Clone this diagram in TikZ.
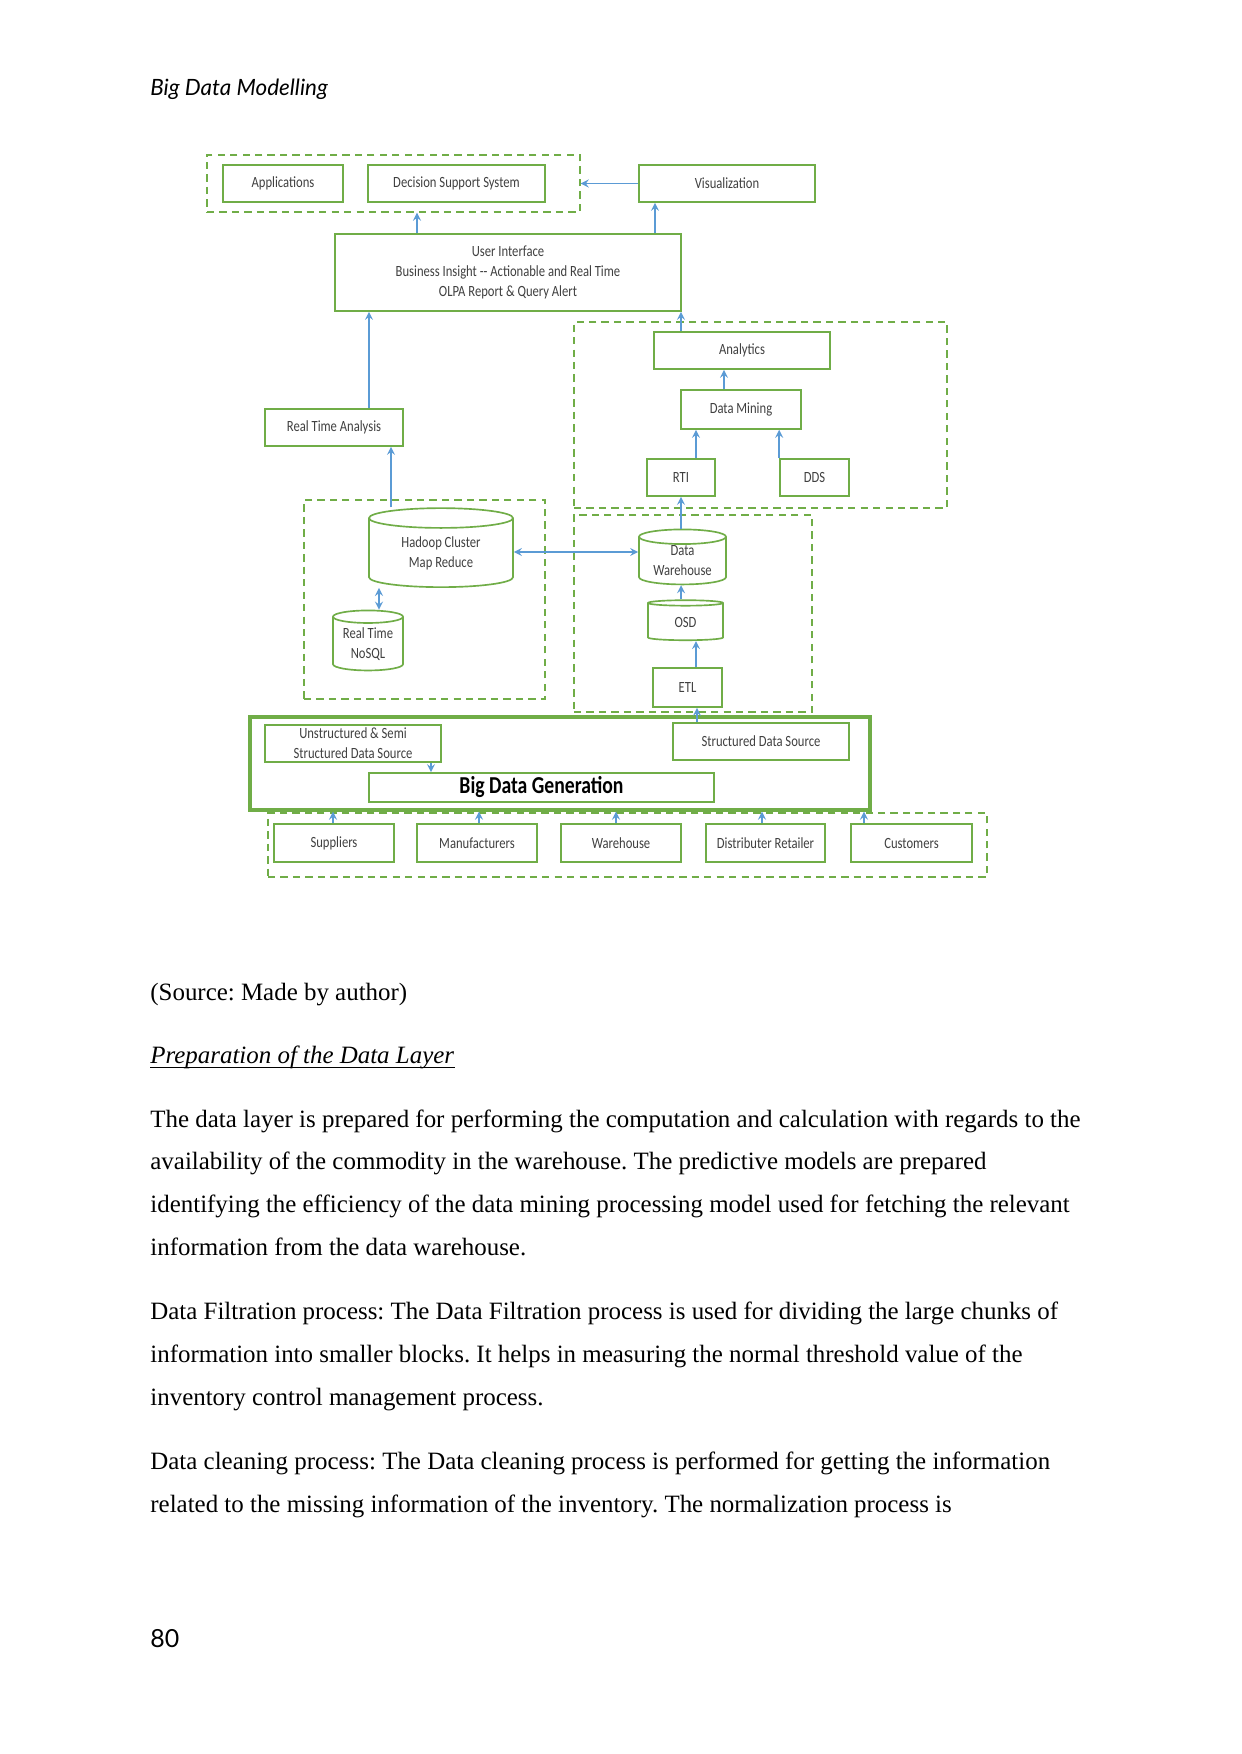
\documentclass[tikz,border=0pt]{standalone}
\usepackage{fontspec}
\setmainfont{Liberation Serif}
\newfontfamily\diagfont[FakeStretch=0.81]{Carlito}
\newfontfamily\headfont{Lato}
\usepackage{xcolor}
\definecolor{bdGreen}{HTML}{70AD47}
\definecolor{bdBlue}{HTML}{5B9BD5}
\definecolor{bdText}{HTML}{404040}
\usetikzlibrary{shapes.geometric}
\newcommand{\pxu}{0.16922mm}
\frenchspacing

\tikzset{
  sz/.style 2 args={minimum width=#1*\pxu, minimum height=#2*\pxu},
  box/.style={draw=bdGreen, line width=0.8pt, fill=white, text=bdText, align=center,
    inner sep=0pt, font=\diagfont\fontsize{7.5}{9.6}\selectfont},
  db/.style={box, cylinder, shape border rotate=90, aspect=0.25},
  group/.style={draw=bdGreen, line width=0.7pt, dash pattern=on 3.5pt off 2.5pt, inner sep=0pt},
  flow/.style={->, bdBlue, line width=0.7pt},
  both/.style={<->, bdBlue, line width=0.7pt},
  body/.style={anchor=base west, inner sep=0pt, font=\fontsize{12}{14}\selectfont}
}

\begin{document}
\begin{tikzpicture}[x=0.16922mm, y=-0.16922mm, >=stealth]
  \fill[white] (0,0) rectangle (1241,1754);
  \useasboundingbox (0,0) rectangle (1241,1754);
  % page header
  \node[body, font=\headfont\itshape\fontsize{10.8}{13}\selectfont] (head) at (150,96) {Big Data Modelling};
  % dashed groups
  \node[group, sz={373}{57}] (appgrp) at (393.5,183.5) {};
  \node[group, sz={373}{186}] (anagrp) at (760.5,415) {};
  \node[group, sz={241}{199}] (hadgrp) at (424.5,599.5) {};
  \node[group, sz={238}{197}] (dwgrp) at (693,613.5) {};
  \node[group, sz={719}{64}] (srcgrp) at (627.5,845) {};
  \node[draw=bdGreen, line width=1.6pt, sz={620}{93}] (gengrp) at (560,763.5) {};
  % top row
  \node[box, sz={120}{37}] (apps) at (283,183.5) {Applications};
  \node[box, sz={177}{37}] (dss) at (456.5,183.5) {Decision Support System};
  \node[box, sz={176}{37}] (viz) at (727,183.5) {Visualization};
  \node[box, sz={346}{77}] (ui) at (508,272.5)
    {User Interface\\ Business Insight -- Actionable and Real Time\\ OLPA Report \& Query Alert};
  \node[box, sz={138}{37}] (rta) at (334,427.5) {Real Time Analysis};
  % analytics
  \node[box, sz={176}{37}] (ana) at (742,350.5) {Analytics};
  \node[box, sz={120}{39}] (dm) at (741,409.5) {Data Mining};
  \node[box, sz={68}{37}] (rti) at (681,477.5) {RTI};
  \node[box, sz={69}{37}] (dds) at (814.5,477.5) {DDS};
  % storage
  \node[db, sz={144}{79}] (hadoop) at (441,553) {Hadoop Cluster\\ Map Reduce};
  \node[db, sz={70}{60}] (nosql) at (368,644) {Real Time\\ NoSQL};
  \node[db, sz={87}{55}] (dw) at (682.5,561) {Data\\ Warehouse};
  \node[db, sz={75}{40}] (osd) at (685.5,622) {OSD};
  \node[box, sz={69}{39}] (etl) at (687.5,687.5) {ETL};
  % generation
  \node[box, sz={176}{37}] (unst) at (353,743.5) {Unstructured \& Semi\\ Structured Data Source};
  \node[box, sz={176}{37}] (sds) at (761,741.5) {Structured Data Source};
  \node[box, sz={345}{29}, font=\diagfont\bfseries\fontsize{11.7}{12}\selectfont, text=black] (bdg) at (541.5,787.5) {Big Data Generation};
  % sources
  \node[box, sz={120}{38}] (sup) at (334,843) {Suppliers};
  \node[box, sz={120}{38}] (man) at (477,843) {Manufacturers};
  \node[box, sz={120}{38}] (wh) at (621,843) {Warehouse};
  \node[box, sz={119}{38}] (dr) at (765.5,843) {Distributer Retailer};
  \node[box, sz={121}{38}] (cus) at (911.5,843) {Customers};
  % connectors
  \draw[flow] (417,0 |- ui.north) -- (417,0 |- appgrp.south);
  \draw[flow] (viz.west) -- (appgrp.east |- viz.west);
  \draw[flow] (655,0 |- ui.north) -- (655,0 |- viz.south);
  \draw[flow] (369,0 |- rta.north) -- (369,0 |- ui.south);
  \draw[flow] (391,0 |- hadoop.north) -- (391,0 |- rta.south);
  \draw[flow] (681,0 |- ana.north) -- (681,0 |- ui.south);
  \draw[flow] (724,0 |- dm.north) -- (724,0 |- ana.south);
  \draw[flow] (696,0 |- rti.north) -- (696,0 |- dm.south);
  \draw[flow] (dds.north west) -- (dds.north west |- dm.south);
  \draw[flow] (681,0 |- dw.north) -- (681,0 |- rti.south);
  \draw[both] (hadoop.east |- 0,552) -- (dw.west |- 0,552);
  \draw[both] (379,0 |- hadoop.south) -- (379,0 |- nosql.north);
  \draw[flow] (681,0 |- osd.north) -- (681,0 |- dw.south);
  \draw[flow] (696,0 |- etl.north) -- (696,0 |- osd.south);
  \draw[flow] (697,0 |- sds.north) -- (697,0 |- etl.south);
  \draw[flow] (431,0 |- unst.south) -- (431,0 |- bdg.north);
  \draw[flow] (333,0 |- sup.north) -- (333,0 |- gengrp.south);
  \draw[flow] (479,0 |- man.north) -- (479,0 |- gengrp.south);
  \draw[flow] (616,0 |- wh.north) -- (616,0 |- gengrp.south);
  \draw[flow] (762,0 |- dr.north) -- (762,0 |- gengrp.south);
  \draw[flow] (864,0 |- cus.north) -- (864,0 |- gengrp.south);
  % text below the figure
  \node[body] (src) at (150,1000) {(Source: Made by author)};
  \node[body, font=\itshape\fontsize{12}{14}\selectfont] (prep) at (150,1063) {Preparation of the Data Layer};
  \draw[line width=0.5pt] ([yshift=-2pt]prep.base west) -- ([yshift=-2pt]prep.base east);
  \node[body] (p1a) at (150,1127) {The data layer is prepared for performing the computation and calculation with regards to the};
  \node[body] (p1b) at (150,1169.9) {availability of the commodity in the warehouse. The predictive models are prepared};
  \node[body] (p1c) at (150,1212.8) {identifying the efficiency of the data mining processing model used for fetching the relevant};
  \node[body] (p1d) at (150,1255.7) {information from the data warehouse.};
  \node[body] (p2a) at (150,1319.5) {Data Filtration process: The Data Filtration process is used for dividing the large chunks of};
  \node[body] (p2b) at (150,1362.4) {information into smaller blocks. It helps in measuring the normal threshold value of the};
  \node[body] (p2c) at (150,1405.3) {inventory control management process.};
  \node[body] (p3a) at (150,1469.4) {Data cleaning process: The Data cleaning process is performed for getting the information};
  \node[body] (p3b) at (150,1512.3) {related to the missing information of the inventory. The normalization process is};
  % page number
  \node[body, font=\headfont\fontsize{12}{14}\selectfont] (pnum) at (150,1647) {80};
\end{tikzpicture}
\end{document}
